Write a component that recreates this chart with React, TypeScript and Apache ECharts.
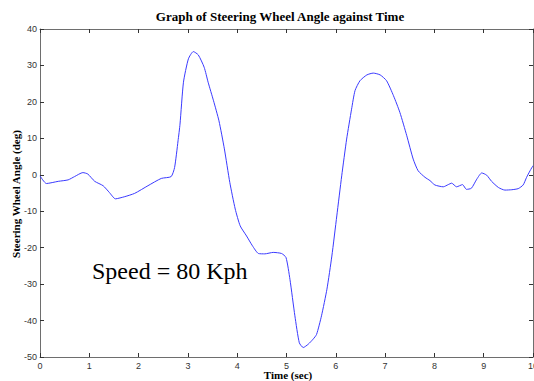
import React, { useEffect, useRef } from "react";
import * as echarts from "echarts";

const timeValues: number[] = [
  0, 0.13, 0.37, 0.57, 0.7, 0.87, 0.97, 1.11, 1.28, 1.41,
  1.53, 1.72, 1.92, 2.19, 2.46, 2.66, 2.73, 2.8, 2.84, 2.91,
  3.01, 3.11, 3.21, 3.33, 3.41, 3.52, 3.63, 3.74, 3.85, 3.96,
  4.06, 4.19, 4.31, 4.43, 4.56, 4.73, 4.9, 4.99, 5.07, 5.17,
  5.26, 5.34, 5.44, 5.54, 5.61, 5.71, 5.82, 5.92, 6.02, 6.12,
  6.22, 6.32, 6.39, 6.49, 6.63, 6.76, 6.9, 7.03, 7.17, 7.3,
  7.44, 7.57, 7.67, 7.81, 7.91, 8.01, 8.18, 8.28, 8.35, 8.45,
  8.57, 8.65, 8.75, 8.86, 8.96, 9.06, 9.16, 9.3, 9.43, 9.57,
  9.7, 9.8, 9.87, 9.94, 10.0,
];

const angleValues: number[] = [
  -0.3, -2.4, -1.8, -1.4, -0.5, 0.6, 0.2, -1.8, -3.0, -4.9,
  -6.6, -6.0, -5.1, -3.0, -1.0, -0.5, 2.0, 9.3, 13.9, 25.4,
  31.8, 33.8, 32.9, 29.5, 25.4, 20.3, 14.8, 7.1, -2.1, -9.4,
  -14.0, -16.8, -19.5, -21.6, -21.7, -21.3, -21.6, -22.7, -28.7, -38.7,
  -46.1, -47.4, -46.5, -45.1, -43.8, -38.7, -31.4, -22.3, -11.3, -0.3,
  9.8, 18.0, 23.1, 25.8, 27.4, 27.9, 27.4, 25.8, 21.7, 17.1,
  10.7, 4.3, 1.1, -0.7, -1.6, -2.8, -3.3, -2.7, -2.3, -3.3,
  -2.7, -4.0, -3.7, -1.2, 0.5, -0.1, -1.8, -3.5, -4.2, -4.1,
  -3.8, -2.8, -0.7, 1.1, 2.5,
];

const titleText = "Graph of Steering Wheel Angle against Time";
const xAxisName = "Time (sec)";
const yAxisName = "Steering Wheel Angle (deg)";
const annotationText = "Speed = 80 Kph";

export default function App() {
  const ref = useRef<HTMLDivElement>(null);

  useEffect(() => {
    if (!ref.current) return;
    const chart = echarts.init(ref.current, null, { renderer: "svg" });
    const data = timeValues.map((t, i) => [t, angleValues[i]]);
    const serif = "Liberation Serif";
    const sans = "Liberation Sans";
    const axisLine = { show: true, onZero: false, lineStyle: { color: "#6e6e6e", width: 1 } };
    const axisTick = { show: true, inside: true, length: 4, lineStyle: { color: "#333" } };
    chart.setOption({
      animation: false,
      backgroundColor: "#ffffff",
      grid: {
        left: 40,
        right: 1,
        top: 29,
        bottom: 24,
        containLabel: false,
        outerBoundsMode: "none",
      },
      xAxis: [
        {
          type: "value",
          min: 0,
          max: 10,
          interval: 1,
          position: "bottom",
          axisLine,
          axisTick,
          splitLine: { show: false },
          axisLabel: { fontFamily: sans, fontSize: 9, color: "#333", margin: 4 },
        },
        {
          type: "value",
          min: 0,
          max: 10,
          interval: 1,
          position: "top",
          axisLine,
          axisTick,
          splitLine: { show: false },
          axisLabel: { show: false },
        },
      ],
      yAxis: [
        {
          type: "value",
          min: -50,
          max: 40,
          interval: 10,
          position: "left",
          axisLine,
          axisTick,
          splitLine: { show: false },
          axisLabel: { fontFamily: sans, fontSize: 9, color: "#333", margin: 3 },
        },
        {
          type: "value",
          min: -50,
          max: 40,
          interval: 10,
          position: "right",
          axisLine,
          axisTick,
          splitLine: { show: false },
          axisLabel: { show: false },
        },
      ],
      series: [
        {
          type: "line",
          data,
          xAxisIndex: 0,
          yAxisIndex: 0,
          showSymbol: false,
          smooth: 0.2,
          lineStyle: { color: "#3a3aff", width: 1 },
        },
      ],
      graphic: [
        {
          type: "text",
          x: 280,
          y: 16,
          style: {
            text: titleText,
            fontFamily: serif,
            fontWeight: "bold",
            fontSize: 13,
            fill: "#000",
            align: "center",
            verticalAlign: "middle",
          },
        },
        {
          type: "text",
          x: 288,
          y: 375,
          style: {
            text: xAxisName,
            fontFamily: serif,
            fontWeight: "bold",
            fontSize: 11,
            fill: "#000",
            align: "center",
            verticalAlign: "middle",
          },
        },
        {
          type: "text",
          x: 16,
          y: 194,
          rotation: Math.PI / 2,
          style: {
            text: yAxisName,
            fontFamily: serif,
            fontWeight: "bold",
            fontSize: 11,
            fill: "#000",
            align: "center",
            verticalAlign: "middle",
          },
        },
        {
          type: "text",
          x: 92,
          y: 271,
          style: {
            text: annotationText,
            fontFamily: serif,
            fontSize: 24,
            fill: "#000",
            align: "left",
            verticalAlign: "middle",
          },
        },
      ],
    });
    return () => chart.dispose();
  }, []);

  return (
    <div
      ref={ref}
      style={{ position: "fixed", left: 0, top: 0, width: 534, height: 381, background: "#fff" }}
    />
  );
}
